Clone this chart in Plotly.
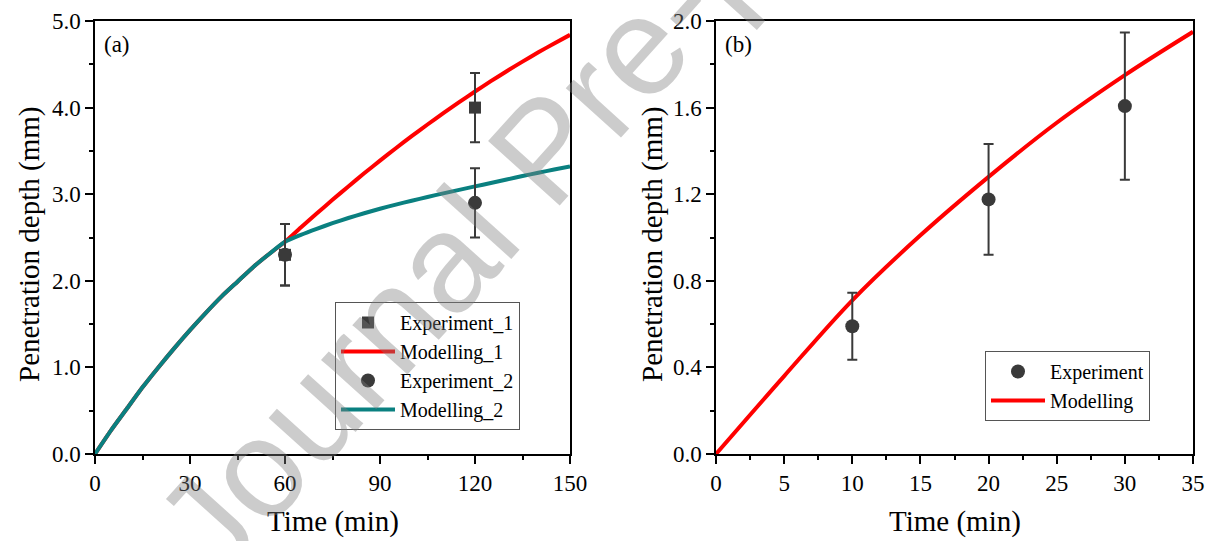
import plotly.graph_objects as go

# ---------------- data: panel (a) ----------------
exp_time_a = [60, 120]
exp1_depth = [2.30, 4.00]
exp1_err = [0.355, 0.40]
exp2_depth = [2.30, 2.90]
exp2_err = [0.355, 0.40]

model_time_a = [0, 5, 10, 15, 20, 25, 30, 35, 40, 45, 50, 55, 60,
                65, 70, 75, 80, 85, 90, 95, 100, 105, 110, 115, 120,
                125, 130, 135, 140, 145, 150]
model1_depth = [0, 0.27, 0.52, 0.77, 1.00, 1.22, 1.43, 1.63, 1.82, 1.99, 2.16, 2.31, 2.45,
                2.615, 2.777, 2.935, 3.09, 3.241, 3.388, 3.531, 3.67, 3.805, 3.936, 4.063, 4.186,
                4.305, 4.42, 4.531, 4.638, 4.741, 4.84]
model2_depth = [0, 0.27, 0.52, 0.77, 1.00, 1.22, 1.43, 1.63, 1.82, 1.99, 2.16, 2.31, 2.45,
                2.53, 2.60, 2.665, 2.725, 2.78, 2.832, 2.88, 2.925, 2.968, 3.01, 3.05, 3.09,
                3.13, 3.17, 3.21, 3.248, 3.285, 3.32]

# ---------------- data: panel (b) ----------------
exp_time_b = [10, 20, 30]
exp_depth_b = [0.59, 1.176, 1.607]
exp_err_b = [0.155, 0.256, 0.34]

model_time_b = [0, 5, 10, 15, 20, 25, 30, 35]
model_depth_b = [0, 0.36, 0.71, 1.01, 1.28, 1.53, 1.75, 1.95]

x_ticks_a = [0, 30, 60, 90, 120, 150]
y_ticks_a = [0, 1, 2, 3, 4, 5]
x_ticks_b = [0, 5, 10, 15, 20, 25, 30, 35]
y_ticks_b = [0, 0.4, 0.8, 1.2, 1.6, 2.0]

# ---------------- style ----------------
W, H = 1208, 541
SERIF = "Liberation Serif, Times New Roman, serif"
RED = "#ff0000"
TEAL = "#0a8080"
DARK = "#3a3a3a"

fig = go.Figure()

# panel (a)
fig.add_trace(go.Scatter(x=model_time_a, y=model1_depth, mode="lines", name="Modelling_1",
                         line=dict(color=RED, width=4, shape="spline", smoothing=0.6),
                         legend="legend", legendrank=2, xaxis="x", yaxis="y"))
fig.add_trace(go.Scatter(x=model_time_a, y=model2_depth, mode="lines", name="Modelling_2",
                         line=dict(color=TEAL, width=4, shape="spline", smoothing=0.6),
                         legend="legend", legendrank=4, xaxis="x", yaxis="y"))
fig.add_trace(go.Scatter(x=exp_time_a, y=exp1_depth, mode="markers", name="Experiment_1",
                         marker=dict(symbol="square", size=12, color=DARK),
                         error_y=dict(type="data", array=exp1_err, color=DARK, thickness=2, width=5),
                         legend="legend", legendrank=1, xaxis="x", yaxis="y"))
fig.add_trace(go.Scatter(x=exp_time_a, y=exp2_depth, mode="markers", name="Experiment_2",
                         marker=dict(symbol="circle", size=14, color=DARK),
                         error_y=dict(type="data", array=exp2_err, color=DARK, thickness=2, width=5),
                         legend="legend", legendrank=3, xaxis="x", yaxis="y"))

# panel (b)
fig.add_trace(go.Scatter(x=model_time_b, y=model_depth_b, mode="lines", name="Modelling",
                         line=dict(color=RED, width=4, shape="spline"), legend="legend2",
                         legendrank=2, xaxis="x2", yaxis="y2"))
fig.add_trace(go.Scatter(x=exp_time_b, y=exp_depth_b, mode="markers", name="Experiment",
                         marker=dict(symbol="circle", size=14, color=DARK),
                         error_y=dict(type="data", array=exp_err_b, color=DARK, thickness=2, width=5),
                         legend="legend2", legendrank=1, xaxis="x2", yaxis="y2"))

ydom = [1 - 454 / H, 1 - 21 / H]
axis_common = dict(showline=True, linecolor="black", linewidth=1.5, mirror=True,
                   ticks="outside", ticklen=8, tickwidth=1.5, tickcolor="black",
                   showgrid=False, zeroline=False, automargin=False,
                   tickfont=dict(family=SERIF, size=23, color="black"))
minor_common = dict(ticklen=4, tickwidth=1.5, ticks="outside", tickcolor="black", showgrid=False)

fig.update_layout(
    width=W, height=H,
    margin=dict(l=0, r=0, t=0, b=0, autoexpand=False),
    paper_bgcolor="white", plot_bgcolor="white",
    xaxis=dict(domain=[95 / W, 570 / W], range=[0, 150], tickvals=x_ticks_a,
               minor=dict(dtick=15, **minor_common), anchor="y", **axis_common),
    yaxis=dict(domain=ydom, range=[0, 5], tickvals=y_ticks_a, tickformat=".1f",
               minor=dict(dtick=0.5, **minor_common), anchor="x", **axis_common),
    xaxis2=dict(domain=[716 / W, 1193 / W], range=[0, 35], tickvals=x_ticks_b,
                minor=dict(dtick=2.5, **minor_common), anchor="y2", **axis_common),
    yaxis2=dict(domain=ydom, range=[0, 2], tickvals=y_ticks_b, tickformat=".1f",
                minor=dict(dtick=0.2, **minor_common), anchor="x2", **axis_common),
    legend=dict(x=335 / W, y=1 - 302 / H, xanchor="left", yanchor="top",
                bgcolor="white", bordercolor="#555555", borderwidth=1,
                font=dict(family=SERIF, size=20, color="black"),
                tracegroupgap=0, itemwidth=54),
    legend2=dict(x=985 / W, y=1 - 351 / H, xanchor="left", yanchor="top",
                 bgcolor="white", bordercolor="#555555", borderwidth=1,
                 font=dict(family=SERIF, size=20, color="black"),
                 tracegroupgap=0, itemwidth=54),
    showlegend=True,
)

ann_font = dict(family=SERIF, size=29, color="black")
annotations = [
    dict(text="Time (min)", x=(95 + 570) / 2 / W, y=1 - 521 / H, xref="paper", yref="paper",
         showarrow=False, font=ann_font, xanchor="center", yanchor="middle"),
    dict(text="Time (min)", x=(716 + 1193) / 2 / W, y=1 - 521 / H, xref="paper", yref="paper",
         showarrow=False, font=ann_font, xanchor="center", yanchor="middle"),
    dict(text="Penetration depth (mm)", x=30 / W, y=1 - 245 / H, xref="paper", yref="paper",
         showarrow=False, font=ann_font, textangle=-90, xanchor="center", yanchor="middle"),
    dict(text="Penetration depth (mm)", x=653 / W, y=1 - 245 / H, xref="paper", yref="paper",
         showarrow=False, font=ann_font, textangle=-90, xanchor="center", yanchor="middle"),
    dict(text="(a)", x=102 / W, y=1 - 44 / H, xref="paper", yref="paper", showarrow=False,
         font=dict(family=SERIF, size=23, color="black"), xanchor="left", yanchor="middle"),
    dict(text="(b)", x=723 / W, y=1 - 44 / H, xref="paper", yref="paper", showarrow=False,
         font=dict(family=SERIF, size=23, color="black"), xanchor="left", yanchor="middle"),
    dict(text="Journal Pre-proof", x=545 / W, y=1 - 150 / H, xref="paper", yref="paper",
         showarrow=False, textangle=-48,
         font=dict(family="Liberation Sans, Arial, sans-serif", size=140,
                   color="rgba(128,128,128,0.40)"),
         xanchor="center", yanchor="middle"),
]
fig.update_layout(annotations=annotations)

fig.write_html("out.html")
